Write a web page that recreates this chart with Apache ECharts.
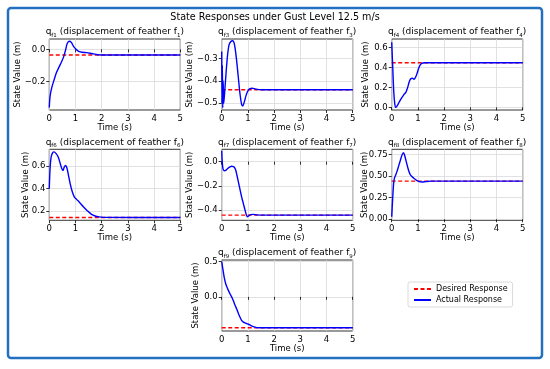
<!DOCTYPE html>
<html><head><meta charset="utf-8">
<script src="https://cdn.jsdelivr.net/npm/echarts@6/dist/echarts.min.js"></script>
<style>html,body{margin:0;padding:0;background:#fff}#c{width:550px;height:369px}</style>
</head><body><div id="c"></div>
<script>
// ---------------- data ----------------
const mainTitle = 'State Responses under Gust Level 12.5 m/s';
const featherIds = ['1', '3', '4', '6', '7', '8', '9'];
const xTicks = [0, 1, 2, 3, 4, 5];
const desired = [-0.035, -0.44, 0.445, 0.145, -0.44, 0.44, -0.44];

const t1 = [0, 0.03, 0.09, 0.18, 0.27, 0.37, 0.46, 0.55, 0.62, 0.68, 0.76, 0.84, 0.92, 1.02, 1.12, 1.25, 1.43, 1.62, 1.85, 2.1, 5];
const v1 = [-0.36, -0.29, -0.24, -0.19, -0.145, -0.11, -0.08, -0.045, -0.005, 0.035, 0.05, 0.043, 0.02, 0.0, -0.012, -0.018, -0.02, -0.026, -0.033, -0.035, -0.035];

const t2 = [0, 0.01, 0.025, 0.04, 0.055, 0.08, 0.12, 0.17, 0.22, 0.28, 0.35, 0.42, 0.49, 0.56, 0.63, 0.7, 0.76, 0.8, 0.86, 0.93, 1.0, 1.08, 1.16, 1.3, 1.5, 5];
const v2 = [-0.27, -0.50, -0.33, -0.52, -0.40, -0.50, -0.44, -0.36, -0.29, -0.24, -0.225, -0.222, -0.24, -0.30, -0.38, -0.46, -0.505, -0.512, -0.495, -0.465, -0.445, -0.435, -0.433, -0.437, -0.44, -0.44];

const t3 = [0, 0.04, 0.08, 0.12, 0.16, 0.22, 0.3, 0.38, 0.46, 0.54, 0.6, 0.67, 0.73, 0.79, 0.85, 0.91, 0.97, 1.03, 1.09, 1.15, 1.25, 5];
const v3 = [0.65, 0.40, 0.15, 0.03, 0.0, 0.02, 0.06, 0.095, 0.125, 0.15, 0.19, 0.255, 0.285, 0.29, 0.28, 0.30, 0.34, 0.39, 0.425, 0.44, 0.445, 0.445];

const t4 = [0, 0.03, 0.07, 0.12, 0.18, 0.26, 0.34, 0.42, 0.48, 0.52, 0.57, 0.62, 0.67, 0.73, 0.8, 0.88, 0.96, 1.04, 1.15, 1.3, 1.45, 1.6, 1.75, 1.9, 2.05, 5];
const v4 = [0.40, 0.58, 0.68, 0.715, 0.725, 0.71, 0.68, 0.62, 0.575, 0.56, 0.59, 0.605, 0.585, 0.52, 0.44, 0.37, 0.325, 0.305, 0.28, 0.24, 0.205, 0.175, 0.158, 0.15, 0.146, 0.145];

const t5 = [0, 0.02, 0.05, 0.1, 0.15, 0.22, 0.3, 0.38, 0.45, 0.52, 0.58, 0.64, 0.7, 0.76, 0.82, 0.88, 0.93, 0.98, 1.03, 1.1, 1.2, 1.35, 1.6, 5];
const v5 = [0.09, 0.0, -0.06, -0.075, -0.072, -0.058, -0.045, -0.038, -0.04, -0.06, -0.11, -0.17, -0.23, -0.29, -0.34, -0.39, -0.43, -0.455, -0.447, -0.436, -0.434, -0.438, -0.44, -0.44];

const t6 = [0, 0.03, 0.07, 0.1, 0.15, 0.2, 0.27, 0.33, 0.39, 0.45, 0.5, 0.56, 0.63, 0.7, 0.78, 0.86, 0.95, 1.05, 1.15, 1.3, 1.5, 5];
const v6 = [0.03, 0.2, 0.4, 0.47, 0.51, 0.55, 0.62, 0.68, 0.74, 0.77, 0.73, 0.66, 0.58, 0.52, 0.49, 0.47, 0.45, 0.435, 0.43, 0.435, 0.44, 0.44];

const t7 = [0, 0.03, 0.06, 0.1, 0.15, 0.2, 0.25, 0.32, 0.38, 0.45, 0.51, 0.58, 0.64, 0.7, 0.76, 0.83, 0.89, 0.96, 1.02, 1.1, 1.18, 1.26, 1.34, 1.45, 5];
const v7 = [0.5, 0.43, 0.36, 0.27, 0.19, 0.14, 0.095, 0.04, 0.0, -0.06, -0.12, -0.18, -0.24, -0.29, -0.335, -0.36, -0.372, -0.382, -0.39, -0.405, -0.42, -0.43, -0.438, -0.44, -0.44];

const yMin = [-0.375, -0.53, -0.027, 0.12, -0.483, -0.012, -0.486];
const yMax = [0.064, -0.214, 0.683, 0.748, 0.102, 0.808, 0.524];
const yTicks = [[-0.2, 0.0], [-0.5, -0.4, -0.3], [0.0, 0.2, 0.4, 0.6], [0.2, 0.4, 0.6], [-0.4, -0.2, 0.0], [0.0, 0.25, 0.5, 0.75], [0.0, 0.5]];
const yDecimals = [1, 1, 1, 1, 1, 2, 1];

const times = [t1, t2, t3, t4, t5, t6, t7];
const values = [v1, v2, v3, v4, v5, v6, v7];

// ---------------- layout ----------------
const FONT = 'DejaVu Sans';
const colLeft = [49.3, 221.7, 391.7];
const rowTop = [39, 149.3, 260];
const plotW = 131, plotH = 71;
const cells = [[0,0],[0,1],[0,2],[1,0],[1,1],[1,2],[2,1]];
const yNameGap = [27, 27.4, 21.4, 19, 27.4, 22.6, 21.4];

const chart = echarts.init(document.getElementById('c'), null, {renderer: 'canvas'});
const grid = [], xAxis = [], yAxis = [], series = [], graphics = [];

function fmt(v, d) {
  const s = Math.abs(v).toFixed(d);
  return (v < 0 ? '\u2212' : '') + s;
}

cells.forEach(([r, c], i) => {
  const left = colLeft[c], top = rowTop[r];
  grid.push({left: left, top: top, width: plotW, height: plotH, show: true,
    borderColor: '#000', borderWidth: 0.8, backgroundColor: 'transparent'});
  xAxis.push({type: 'value', gridIndex: i, min: 0, max: 5, interval: 1,
    name: 'Time (s)', nameLocation: 'middle', nameGap: 13, nameMoveOverlap: false,
    nameTextStyle: {fontFamily: FONT, fontSize: 8.5, color: '#000'},
    axisLine: {show: false},
    axisTick: {show: true, length: 3, lineStyle: {color: '#000', width: 0.8}},
    axisLabel: {fontFamily: FONT, fontSize: 8.5, color: '#000', margin: 4},
    splitLine: {show: true, lineStyle: {color: '#d9d9d9', width: 0.8}}});
  const d = yDecimals[i];
  yAxis.push({type: 'value', gridIndex: i, min: yMin[i], max: yMax[i],
    name: 'State Value (m)', nameLocation: 'middle', nameGap: yNameGap[i], nameMoveOverlap: false,
    nameTextStyle: {fontFamily: FONT, fontSize: 8.5, color: '#000'},
    axisLine: {show: false},
    axisTick: {show: true, length: 3, customValues: yTicks[i], lineStyle: {color: '#000', width: 0.8}},
    axisLabel: {fontFamily: FONT, fontSize: 8.5, color: '#000', margin: 4, customValues: yTicks[i],
      hideOverlap: false, formatter: (v) => fmt(v, d)},
    splitLine: {show: true, lineStyle: {color: '#d9d9d9', width: 0.8}}});
  series.push({type: 'line', name: 'Desired Response', xAxisIndex: i, yAxisIndex: i,
    data: xTicks.filter((x, k) => k === 0 || k === xTicks.length - 1).map(x => [x, desired[i]]),
    symbol: 'none', lineStyle: {color: '#ff0000', width: 1.4, type: [4, 2.5]}, itemStyle: {color: '#ff0000'},
    z: 2});
  series.push({type: 'line', name: 'Actual Response', xAxisIndex: i, yAxisIndex: i,
    data: times[i].map((t, k) => [t, values[i][k]]),
    symbol: 'none', smooth: 0.3, lineStyle: {color: '#0000ff', width: 1.4}, itemStyle: {color: '#0000ff'},
    z: 3});
  const id = featherIds[i];
  graphics.push({type: 'text', x: left + plotW / 2, y: top - 7,
    style: {text: '{m|q}{s|f' + id + '}{m| (displacement of feather f}{s|' + id + '}{m|)}',
      align: 'center', verticalAlign: 'middle', fill: '#000', font: '9px ' + FONT,
      rich: {m: {fontFamily: FONT, fontSize: 9, lineHeight: 13, verticalAlign: 'middle'},
             s: {fontFamily: FONT, fontSize: 5.5, lineHeight: 7, verticalAlign: 'bottom'}}}});
});

graphics.push({type: 'text', x: 275, y: 17,
  style: {text: mainTitle, align: 'center', verticalAlign: 'middle', fill: '#000',
    font: '9.6px ' + FONT}});
graphics.push({type: 'rect', shape: {x: 8, y: 8, width: 534, height: 350, r: 3},
  style: {fill: 'none', stroke: '#2470c0', lineWidth: 2.5}, z: 100});

chart.setOption({
  animation: false,
  backgroundColor: '#fff',
  grid, xAxis, yAxis, series,
  legend: {data: ['Desired Response', 'Actual Response'], orient: 'vertical',
    left: 408, top: 282, itemWidth: 17, itemHeight: 8, itemGap: 3,
    itemStyle: {opacity: 0},
    padding: [3, 5, 3, 5], borderColor: '#d0d0d0', borderWidth: 0.8, borderRadius: 2,
    backgroundColor: '#fff',
    textStyle: {fontFamily: FONT, fontSize: 8, color: '#000'}},
  graphic: graphics
});
</script>
</body></html>
